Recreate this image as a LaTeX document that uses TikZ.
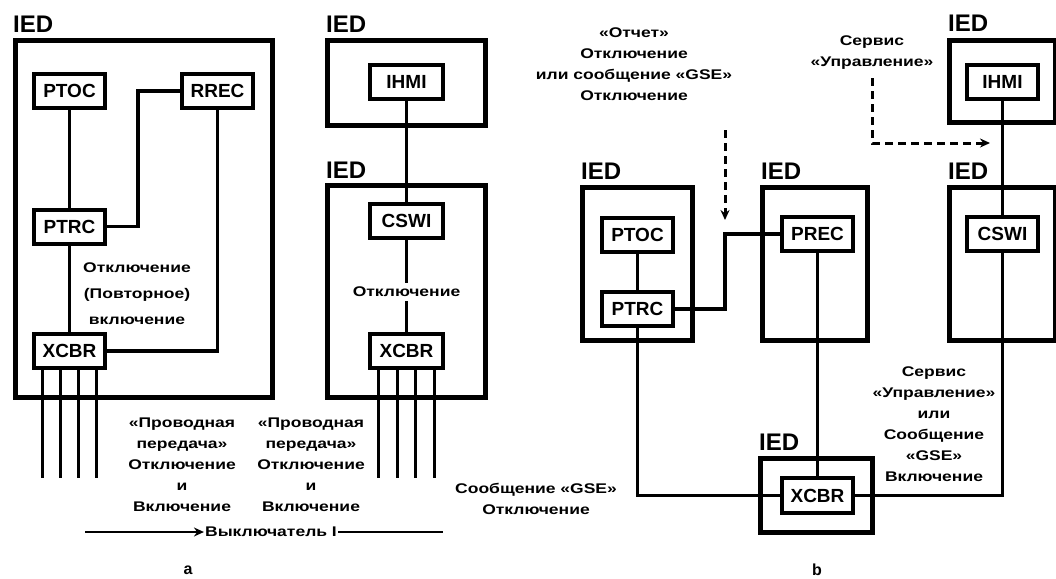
\documentclass[tikz,border=0pt]{standalone}
\usepackage{fontspec}
\setmainfont{Liberation Sans}
\newfontfamily\txtfont{Liberation Sans}[FakeStretch=1.25]
\usetikzlibrary{positioning,arrows.meta}

\begin{document}
\begin{tikzpicture}[x=1pt,y=-1pt,
	ied/.style={draw,line width=5pt,inner sep=0pt},
	ln/.style={draw,line width=4pt,fill=white,minimum width=71pt,minimum height=34pt,inner sep=0pt,font=\bfseries\fontsize{19}{19}\selectfont},
	iedlbl/.style={anchor=base west,inner sep=0pt,font=\bfseries\fontsize{24}{24}\selectfont},
	txt/.style={align=center,inner sep=1pt,font=\txtfont\bfseries\fontsize{14}{21}\selectfont},
	link/.style={line width=3.5pt},
	wire/.style={line width=3pt},
	svc/.style={line width=3pt,dash pattern=on 8pt off 5pt,-{Stealth[length=10pt,width=9pt]}}]
	\useasboundingbox (0,0) rectangle (1056,578);
	
	%Panel a, protection IED
	\node[ied,minimum width=257pt,minimum height=357pt] (iedA1) at (144,219) {};
	\node[iedlbl] at ([shift={(0,-5)}]iedA1.north west) {IED};
	\node[ln] (ptocA) at (69.5,91) {PTOC};
	\node[ln] (rrecA) at (217.5,91) {RREC};
	\node[ln] (ptrcA) at (69.5,226.5) {PTRC};
	\node[ln] (xcbrA1) at (69.5,351) {XCBR};
	\coordinate (bendA) at (138,91);
	\draw[link] (ptocA) -- (ptrcA);
	\draw[link] (ptrcA) -- (xcbrA1);
	\draw[link] (ptrcA.east) -| (bendA) -- (rrecA.west);
	\draw[link] (rrecA.south) |- (xcbrA1.east);
	\node[txt] at (137,294) {Отключение\\[5pt](Повторное)\\[5pt]включение};
	\foreach \dx in {-27,-9,9,27}
		\draw[wire] ([xshift=\dx pt]xcbrA1.south) -- ++(0,108);
	
	%Panel a, control IEDs
	\node[ied,minimum width=158pt,minimum height=85pt] (iedA2) at (406.5,83) {};
	\node[iedlbl] at ([shift={(1,-5)}]iedA2.north west) {IED};
	\node[ied,minimum width=158pt,minimum height=212pt] (iedA3) at (406.5,291.5) {};
	\node[iedlbl] at ([shift={(1,-5)}]iedA3.north west) {IED};
	\node[ln,minimum width=73pt] (hmiA) at (406.5,81.5) {IHMI};
	\node[ln,minimum width=73pt] (cswiA) at (406.5,221) {CSWI};
	\node[ln,minimum width=73pt] (xcbrA2) at (406.5,351) {XCBR};
	\draw[link] (hmiA) -- (cswiA);
	\draw[link] (cswiA) -- (xcbrA2);
	\node[txt,fill=white,inner sep=4pt] at (406.5,292) {Отключение};
	\foreach \dx in {-28,-9,9,28}
		\draw[wire] ([xshift=\dx pt]xcbrA2.south) -- ++(0,108);
	
	%Hardwired
	\node[txt] at (182,465) {«Проводная\\передача»\\Отключение\\и\\Включение};
	\node[txt] at (311,465) {«Проводная\\передача»\\Отключение\\и\\Включение};
	\node[txt] (brk) at (271,532) {Выключатель I};
	\coordinate (brkL) at (85,532);
	\coordinate (brkR) at (443,532);
	\draw[line width=2pt,-{Stealth[length=10pt,width=9pt]}] (brkL) -- (brk.west);
	\draw[line width=2pt] (brk.east) -- (brkR);
	\node[txt,font=\bfseries\fontsize{16}{16}\selectfont] at (188,570) {a};
	
	%Panel b, IEDs
	\node[ied,minimum width=110pt,minimum height=153pt] (iedB1) at (637.5,264) {};
	\node[iedlbl] at ([shift={(1,-6)}]iedB1.north west) {IED};
	\node[ied,minimum width=105pt,minimum height=153pt] (iedB2) at (815,264) {};
	\node[iedlbl] at ([shift={(1,-6)}]iedB2.north west) {IED};
	\node[ied,minimum width=106pt,minimum height=153pt] (iedB3) at (1002.5,264) {};
	\node[iedlbl] at ([shift={(1,-6)}]iedB3.north west) {IED};
	\node[ied,minimum width=106pt,minimum height=82pt] (iedB4) at (1002.5,81.5) {};
	\node[iedlbl] at ([shift={(1,-6)}]iedB4.north west) {IED};
	\node[ied,minimum width=112pt,minimum height=74pt] (iedB5) at (816.5,495.5) {};
	\node[iedlbl] at ([shift={(1,-6)}]iedB5.north west) {IED};
	
	%Panel b, logical nodes
	\node[ln] (ptocB) at (637.5,235) {PTOC};
	\node[ln] (ptrcB) at (637.5,309) {PTRC};
	\node[ln] (precB) at (817.5,234) {PREC};
	\node[ln] (hmiB) at (1002.5,81.5) {IHMI};
	\node[ln] (cswiB) at (1002.5,234) {CSWI};
	\node[ln,minimum height=35pt] (xcbrB) at (817.5,495.5) {XCBR};
	\coordinate (bendB) at (725,234);
	\draw[link] (ptocB) -- (ptrcB);
	\draw[link] (ptrcB.east) -| (bendB) -- (precB.west);
	\draw[link] (precB) -- (xcbrB);
	\draw[link] (ptrcB.south) |- (xcbrB.west);
	\draw[link] (xcbrB.east) -| (cswiB.south);
	\draw[link] (hmiB) -- (cswiB);
	
	%Services
	\node[txt] (rpt) at (634,64.5) {«Отчет»\\Отключение\\или сообщение «GSE»\\Отключение};
	\coordinate (rptS) at (725,130);
	\coordinate (rptE) at (725,220);
	\draw[svc] (rptS) -- (rptE);
	\node[txt] (ctl) at (872,52.5) {Сервис\\«Управление»};
	\coordinate (ctlS) at (872,78);
	\coordinate (ctlE) at (990,143);
	\draw[svc] (ctlS) |- (ctlE);
	\node[txt] at (536,499) {Сообщение «GSE»\\Отключение};
	\node[txt] at (934,424) {Сервис\\«Управление»\\или\\Сообщение\\«GSE»\\Включение};
	\node[txt,font=\bfseries\fontsize{16}{16}\selectfont] at (817,570) {b};
	
\end{tikzpicture}
\end{document}
